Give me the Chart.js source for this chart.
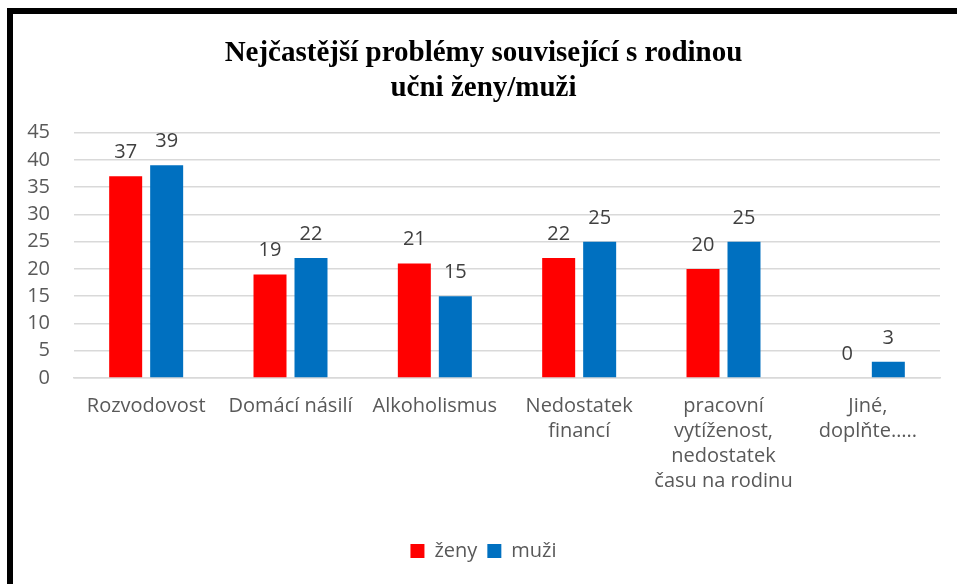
<!DOCTYPE html>
<html>
<head>
<meta charset="utf-8">
<script src="https://cdn.jsdelivr.net/npm/chart.js@4"></script>
<style>
  html, body { margin: 0; padding: 0; background: #fff; }
  #wrap { position: relative; width: 957px; height: 584px; overflow: hidden; }
  #frame {
    position: absolute; left: 7px; top: 8px; width: 1000px; height: 700px;
    border: 6px solid #000; box-sizing: border-box; pointer-events: none;
  }
  #chart { position: absolute; left: 0; top: 0; }
</style>
</head>
<body>
<div id="wrap">
  <canvas id="chart" width="957" height="584"></canvas>
  <div id="frame"></div>
</div>
<script>
const categories = [
  'Rozvodovost',
  'Domácí násilí',
  'Alkoholismus',
  ['Nedostatek', 'financí'],
  ['pracovní', 'vytíženost,', 'nedostatek', 'času na rodinu'],
  ['Jiné,', 'doplňte…..']
];
const zeny = [37, 19, 21, 22, 20, 0];
const muzi = [39, 22, 15, 25, 25, 3];
const yTicks = [0, 5, 10, 15, 20, 25, 30, 35, 40, 45];

const textColor = '#595959';
const fontFamily = '"Open Sans", "Liberation Sans", sans-serif';

// value above each bar
const valueLabels = {
  id: 'valueLabels',
  afterDatasetsDraw(chart) {
    const ctx = chart.ctx;
    ctx.save();
    ctx.fillStyle = '#404040';
    ctx.font = '20px ' + fontFamily;
    ctx.textAlign = 'center';
    ctx.textBaseline = 'alphabetic';
    chart.data.datasets.forEach((ds, i) => {
      chart.getDatasetMeta(i).data.forEach((bar, j) => {
        ctx.fillText(ds.data[j], bar.x, bar.y - 18);
      });
    });
    ctx.restore();
  }
};

new Chart(document.getElementById('chart'), {
  type: 'bar',
  data: {
    labels: categories,
    datasets: [
      { label: 'ženy', data: zeny, backgroundColor: '#ff0000' },
      { label: 'muži', data: muzi, backgroundColor: '#0070c0' }
    ]
  },
  options: {
    responsive: false,
    animation: false,
    maintainAspectRatio: false,
    layout: { padding: { left: 27, right: 17, top: 0, bottom: 13 } },
    datasets: {
      bar: { categoryPercentage: 0.568, barPercentage: 0.805 }
    },
    plugins: {
      title: {
        display: true,
        text: ['Nejčastější problémy související s rodinou', 'učni ženy/muži'],
        color: '#000',
        font: { family: '"Liberation Serif", "Times New Roman", serif', size: 29, weight: 'bold', lineHeight: 1.2 },
        padding: { top: 36, bottom: 27 }
      },
      legend: {
        position: 'bottom',
        labels: {
          color: textColor,
          font: { family: fontFamily, size: 20 },
          boxWidth: 14,
          boxHeight: 14,
          padding: 10
        }
      },
      tooltip: { enabled: false }
    },
    scales: {
      x: {
        grid: { display: false },
        border: { color: '#d9d9d9', width: 1.5 },
        afterFit(axis) { axis.height = 153; },
        ticks: {
          color: textColor,
          font: { family: fontFamily, size: 20, lineHeight: 1.25 },
          maxRotation: 0,
          autoSkip: false,
          padding: 8
        }
      },
      y: {
        min: 0,
        max: 45,
        afterBuildTicks(axis) { axis.ticks = yTicks.map(v => ({ value: v })); },
        afterFit(axis) { axis.width = 47; },
        grid: { color: '#d9d9d9', lineWidth: 1.5, drawTicks: false },
        border: { display: false },
        ticks: {
          color: textColor,
          font: { family: fontFamily, size: 20 },
          autoSkip: false,
          padding: 24
        }
      }
    }
  },
  plugins: [valueLabels]
});
</script>
</body>
</html>
